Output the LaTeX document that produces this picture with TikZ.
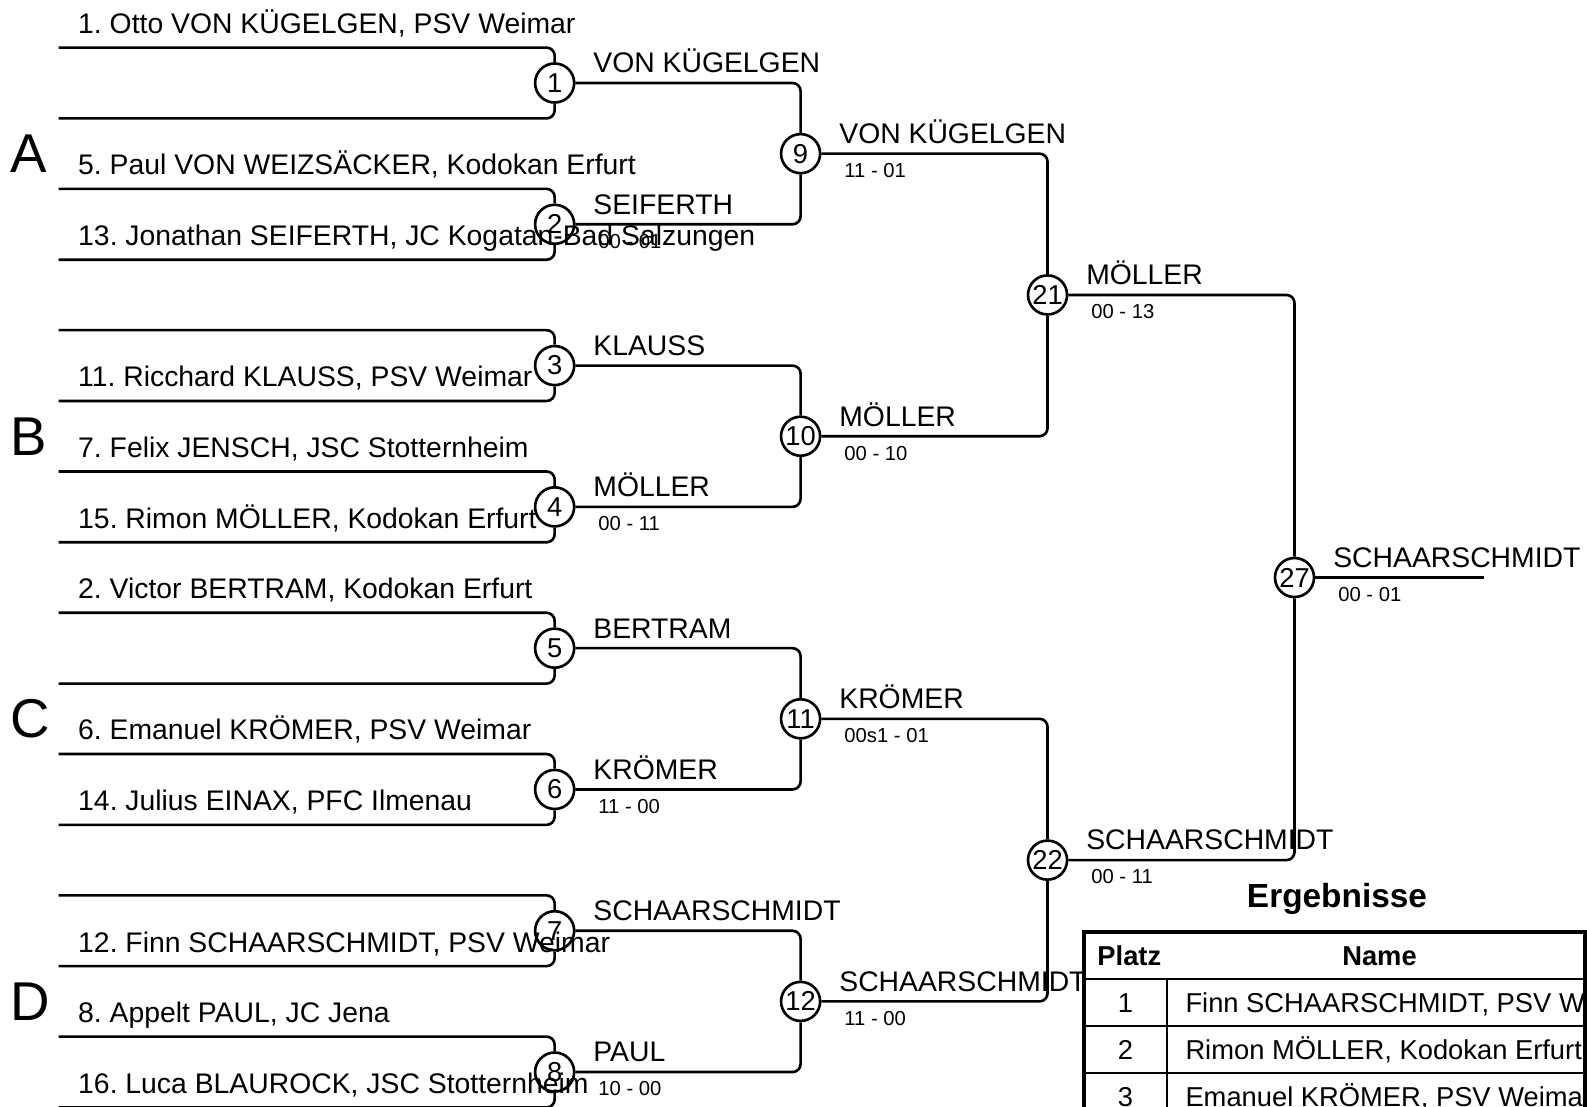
\documentclass[tikz,border=0pt]{standalone}
\usepackage{fontspec}
\setmainfont{Liberation Sans}
\begin{document}
\frenchspacing
\begin{tikzpicture}[x=1pt,y=-1pt,line width=2.6pt,
  mcirc/.style={circle,draw,minimum size=38.6pt,inner sep=0pt,font=\fontsize{27}{27}\selectfont},
  pname/.style={anchor=base west,inner sep=0pt,font=\fontsize{28}{30}\selectfont},
  wname/.style={anchor=base west,inner sep=0pt,font=\fontsize{28}{30}\selectfont},
  score/.style={anchor=base west,inner sep=0pt,font=\fontsize{20}{22}\selectfont},
  grp/.style={anchor=west,inner sep=0pt,font=\fontsize{54}{54}\selectfont},
  conn/.style={rounded corners=8pt},
  tabhead/.style={anchor=base,inner sep=0pt,font=\fontsize{27}{29}\selectfont\bfseries},
  tabcell/.style={anchor=base,inner sep=0pt,font=\fontsize{27}{29}\selectfont},
  thin/.style={line width=2.2pt},
  thick/.style={line width=4.5pt}]
\useasboundingbox (0,0) rectangle (1568,1093);

% ---------- round 1 circles ----------
\node[mcirc] (c1) at (548,82.0) {1};
\node[mcirc] (c2) at (548,221.6) {2};
\node[mcirc] (c3) at (548,361.2) {3};
\node[mcirc] (c4) at (548,500.8) {4};
\node[mcirc] (c5) at (548,640.4) {5};
\node[mcirc] (c6) at (548,780.0) {6};
\node[mcirc] (c7) at (548,919.6) {7};
\node[mcirc] (c8) at (548,1059.2) {8};
% ---------- later rounds ----------
\node[mcirc] (c9) at (791,151.8) {9};
\node[mcirc] (c10) at (791,431.0) {10};
\node[mcirc] (c11) at (791,710.2) {11};
\node[mcirc] (c12) at (791,989.4) {12};
\node[mcirc] (c21) at (1035,291.4) {21};
\node[mcirc] (c22) at (1035,849.8) {22};
\node[mcirc] (c27) at (1279,570.6) {27};

% ---------- round 1 bracket start points ----------
\foreach \i/\y in {1/82.0,2/221.6,3/361.2,4/500.8,5/640.4,6/780.0,7/919.6,8/1059.2}{
  \coordinate (t\i) at (58,\y-35);
  \coordinate (b\i) at (58,\y+35);
  \draw[conn] (t\i) -| (c\i.north);
  \draw[conn] (b\i) -| (c\i.south);
}
\coordinate (fin) at (1466,570.6);

% ---------- connectors ----------
\draw[conn] (c1.east) -| (c9.north);
\draw[conn] (c2.east) -| (c9.south);
\draw[conn] (c3.east) -| (c10.north);
\draw[conn] (c4.east) -| (c10.south);
\draw[conn] (c5.east) -| (c11.north);
\draw[conn] (c6.east) -| (c11.south);
\draw[conn] (c7.east) -| (c12.north);
\draw[conn] (c8.east) -| (c12.south);
\draw[conn] (c9.east) -| (c21.north);
\draw[conn] (c10.east) -| (c21.south);
\draw[conn] (c11.east) -| (c22.north);
\draw[conn] (c12.east) -| (c22.south);
\draw[conn] (c21.east) -| (c27.north);
\draw[conn] (c22.east) -| (c27.south);
\draw (c27.east) -- (fin);

% ---------- group letters ----------
\node[grp] (gA) at (9,151.8) {A};
\node[grp] (gB) at (9,431.0) {B};
\node[grp] (gC) at (9,710.2) {C};
\node[grp] (gD) at (9,989.4) {D};

% ---------- player names ----------
\node[pname] (p1) at (76,33.0) {1. Otto VON KÜGELGEN, PSV Weimar};
\node[pname] (p5) at (76,172.6) {5. Paul VON WEIZSÄCKER, Kodokan Erfurt};
\node[pname] (p13) at (76,242.6) {13. Jonathan SEIFERTH, JC Kogatan-Bad Salzungen};
\node[pname] (p11) at (76,382.2) {11. Ricchard KLAUSS, PSV Weimar};
\node[pname] (p7) at (76,451.8) {7. Felix JENSCH, JSC Stotternheim};
\node[pname] (p15) at (76,521.8) {15. Rimon MÖLLER, Kodokan Erfurt};
\node[pname] (p2) at (76,591.4) {2. Victor BERTRAM, Kodokan Erfurt};
\node[pname] (p6) at (76,731.0) {6. Emanuel KRÖMER, PSV Weimar};
\node[pname] (p14) at (76,801.0) {14. Julius EINAX, PFC Ilmenau};
\node[pname] (p12) at (76,940.6) {12. Finn SCHAARSCHMIDT, PSV Weimar};
\node[pname] (p8) at (76,1010.2) {8. Appelt PAUL, JC Jena};
\node[pname] (p16) at (76,1080.2) {16. Luca BLAUROCK, JSC Stotternheim};

% ---------- winners and scores ----------
\node[wname] (w1) at (585,72.0) {VON KÜGELGEN};
\node[wname] (w2) at (585,211.6) {SEIFERTH};
\node[score] (s2) at (590,245.1) {00 - 01};
\node[wname] (w3) at (585,351.2) {KLAUSS};
\node[wname] (w4) at (585,490.8) {MÖLLER};
\node[score] (s4) at (590,524.3) {00 - 11};
\node[wname] (w5) at (585,630.4) {BERTRAM};
\node[wname] (w6) at (585,770.0) {KRÖMER};
\node[score] (s6) at (590,803.5) {11 - 00};
\node[wname] (w7) at (585,909.6) {SCHAARSCHMIDT};
\node[wname] (w8) at (585,1049.2) {PAUL};
\node[score] (s8) at (590,1082.7) {10 - 00};

\node[wname] (w9) at (828,141.8) {VON KÜGELGEN};
\node[score] (s9) at (833,175.3) {11 - 01};
\node[wname] (w10) at (828,421.0) {MÖLLER};
\node[score] (s10) at (833,454.5) {00 - 10};
\node[wname] (w11) at (828,700.2) {KRÖMER};
\node[score] (s11) at (833,733.7) {00s1 - 01};
\node[wname] (w12) at (828,979.4) {SCHAARSCHMIDT};
\node[score] (s12) at (833,1012.9) {11 - 00};

\node[wname] (w21) at (1072,281.4) {MÖLLER};
\node[score] (s21) at (1077,314.9) {00 - 13};
\node[wname] (w22) at (1072,839.8) {SCHAARSCHMIDT};
\node[score] (s22) at (1077,873.3) {00 - 11};

\node[wname] (w27) at (1316,560.6) {SCHAARSCHMIDT};
\node[score] (s27) at (1321,594.1) {00 - 01};

% ---------- results table ----------
\node[anchor=base,inner sep=0pt,font=\fontsize{33}{35}\selectfont\bfseries] (erg) at (1321,897) {Ergebnisse};
\draw[thin] (1071,967) -- (1566,967);
\draw[thin] (1071,1014) -- (1566,1014);
\draw[thin] (1071,1060) -- (1566,1060);
\draw[thin] (1153,967) -- (1153,1100);
\draw[thick] (1071,1100) -- (1071,921) -- (1566,921) -- (1566,1100);
\node[tabhead,anchor=base west] (hplatz) at (1083,953.5) {Platz};
\node[tabhead] (hname) at (1363,953.5) {Name};
\node[tabcell] (r1) at (1112,1000.3) {1};
\node[tabcell] (r2) at (1112,1047.0) {2};
\node[tabcell] (r3) at (1112,1093.3) {3};
\begin{scope}
  \clip (1155,967) rectangle (1564,1100);
  \node[tabcell,anchor=base west] (n1) at (1170,1000.3) {Finn SCHAARSCHMIDT, PSV Weimar};
  \node[tabcell,anchor=base west] (n2) at (1170,1047.0) {Rimon MÖLLER, Kodokan Erfurt};
  \node[tabcell,anchor=base west] (n3) at (1170,1093.3) {Emanuel KRÖMER, PSV Weimar};
\end{scope}
\end{tikzpicture}
\end{document}
